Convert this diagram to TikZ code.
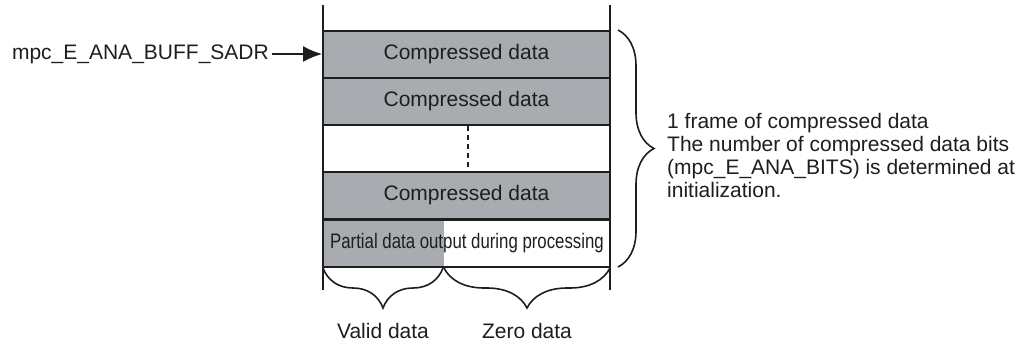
\documentclass[tikz,border=0pt]{standalone}
\usepackage{fontspec}
\setmainfont{Liberation Sans}
\usetikzlibrary{arrows.meta,decorations.pathreplacing,positioning}
\definecolor{bufgray}{RGB}{168,171,176}
\definecolor{ink}{RGB}{30,30,30}
\begin{document}
\begin{tikzpicture}[x=1pt,y=-1pt,
  every node/.style={font=\fontsize{21}{23}\selectfont, text=ink, inner sep=0pt},
  rowbox/.style={draw=ink, line width=2pt, minimum width=287pt, minimum height=47pt},
  wall/.style={draw=ink, line width=2pt},
  bracepath/.style={draw=ink, line width=1.6pt, decorate},
]
\useasboundingbox (0,0) rectangle (1028,343);

% buffer rows
\node[rowbox, fill=bufgray] (r1) at (466.5,54) {Compressed data};
\node[rowbox, fill=bufgray] (r2) at (466.5,101) {Compressed data};
\node[rowbox] (r3) at (466.5,148) {};
\node[rowbox, fill=bufgray] (r4) at (466.5,195.5) {Compressed data};
\fill[bufgray] (323,219) rectangle (444,267);
\node[rowbox] (r5) at (466.5,243) {\hspace*{1pt}\scalebox{0.80}[1]{Partial data output during processing}};

% side walls of the buffer
\coordinate (wlt) at (323,5);
\coordinate (wlb) at (323,290);
\coordinate (wrt) at (610,5);
\coordinate (wrb) at (610,290);
\draw[wall] (wlt) -- (wlb);
\draw[wall] (wrt) -- (wrb);

% omitted rows
\draw[ink, line width=2pt, dash pattern=on 5pt off 4pt] (468,126) -- (468,172);

% start address pointer
\node[anchor=east, inner xsep=3pt] (sadr) at (272,54) {mpc\_E\_ANA\_BUFF\_SADR};
\draw[ink, line width=1.6pt, -{Latex[length=19pt,width=16pt]}] (sadr.east) -- (r1.west);

% frame brace and description
\draw[bracepath, decoration={brace, amplitude=36pt}] (618,30) -- (618,267);
\node[anchor=north west, align=left] (desc) at (667,113)
  {1 frame of compressed data\\The number of compressed data bits\\(mpc\_E\_ANA\_BITS) is determined at\\initialization.};

% valid / zero data braces
\draw[bracepath, decoration={brace, amplitude=40pt}] (443,268) -- (323,268);
\draw[bracepath, decoration={brace, amplitude=40pt}] (610,268) -- (444,268);
\node (valid) at (383,331) {Valid data};
\node (zero) at (527,331) {Zero data};
\end{tikzpicture}
\end{document}
